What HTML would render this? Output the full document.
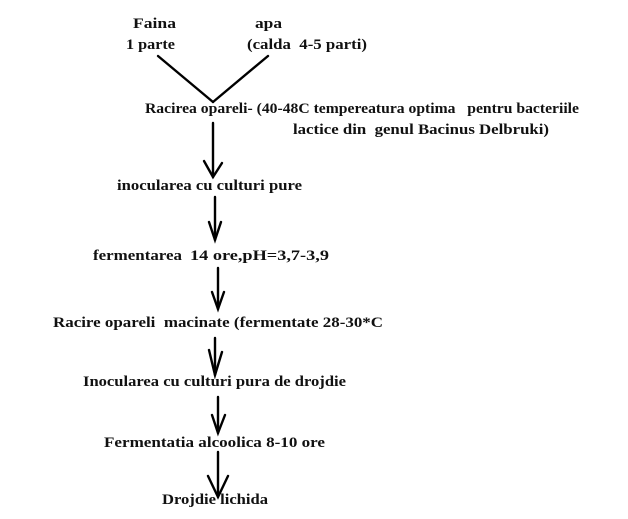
<!DOCTYPE html>
<html><head><meta charset="utf-8"><style>
html,body{margin:0;padding:0;background:#fff;}
svg{display:block;}
text{font-family:"Liberation Serif","Times New Roman",serif;font-weight:bold;font-size:15px;fill:#111;}
</style></head><body>
<svg width="628" height="519" viewBox="0 0 628 519" xmlns="http://www.w3.org/2000/svg">
<text x="133" y="28" textLength="43" lengthAdjust="spacingAndGlyphs">Faina</text>
<text x="255" y="28" textLength="27" lengthAdjust="spacingAndGlyphs">apa</text>
<text x="126" y="49" textLength="49" lengthAdjust="spacingAndGlyphs">1 parte</text>
<text x="247" y="49" textLength="120" lengthAdjust="spacingAndGlyphs" xml:space="preserve">(calda  4-5 parti)</text>
<g stroke="#000" stroke-width="2.4" fill="none" stroke-linecap="round">
<line x1="158" y1="56" x2="213" y2="102"/>
<line x1="268" y1="56" x2="213" y2="102"/>
<line x1="213" y1="123" x2="213" y2="177"/>
<polyline points="204,161 213,177 222,163"/>
<line x1="215" y1="197" x2="215" y2="240"/>
<polyline points="209,222 215,240 221,222"/>
<line x1="218" y1="268" x2="218" y2="309"/>
<polyline points="212,292 218,309 224,292"/>
<line x1="215" y1="338" x2="215" y2="375"/>
<polyline points="209,350 215,375 222,352"/>
<line x1="218" y1="397" x2="218" y2="433"/>
<polyline points="212,415 218,433 225,415"/>
<line x1="218" y1="452" x2="218" y2="497"/>
<polyline points="208,476 218,497 228,476"/>
</g>
<text x="145" y="113" textLength="434" lengthAdjust="spacingAndGlyphs" xml:space="preserve">Racirea opareli- (40-48C tempereatura optima   pentru bacteriile</text>
<text x="293" y="134" textLength="256" lengthAdjust="spacingAndGlyphs" xml:space="preserve">lactice din  genul Bacinus Delbruki)</text>
<text x="117" y="190" textLength="185" lengthAdjust="spacingAndGlyphs">inocularea cu culturi pure</text>
<text x="93" y="260" textLength="89" lengthAdjust="spacingAndGlyphs">fermentarea</text>
<text x="190" y="260" textLength="139" lengthAdjust="spacingAndGlyphs">14 ore,pH=3,7-3,9</text>
<text x="53" y="327" textLength="330" lengthAdjust="spacingAndGlyphs" xml:space="preserve">Racire opareli  macinate (fermentate 28-30*C</text>
<text x="83" y="386" textLength="263" lengthAdjust="spacingAndGlyphs">Inocularea cu culturi pura de drojdie</text>
<text x="104" y="447" textLength="221" lengthAdjust="spacingAndGlyphs">Fermentatia alcoolica 8-10 ore</text>
<text x="162" y="504" textLength="106" lengthAdjust="spacingAndGlyphs">Drojdie lichida</text>
</svg>
</body></html>
